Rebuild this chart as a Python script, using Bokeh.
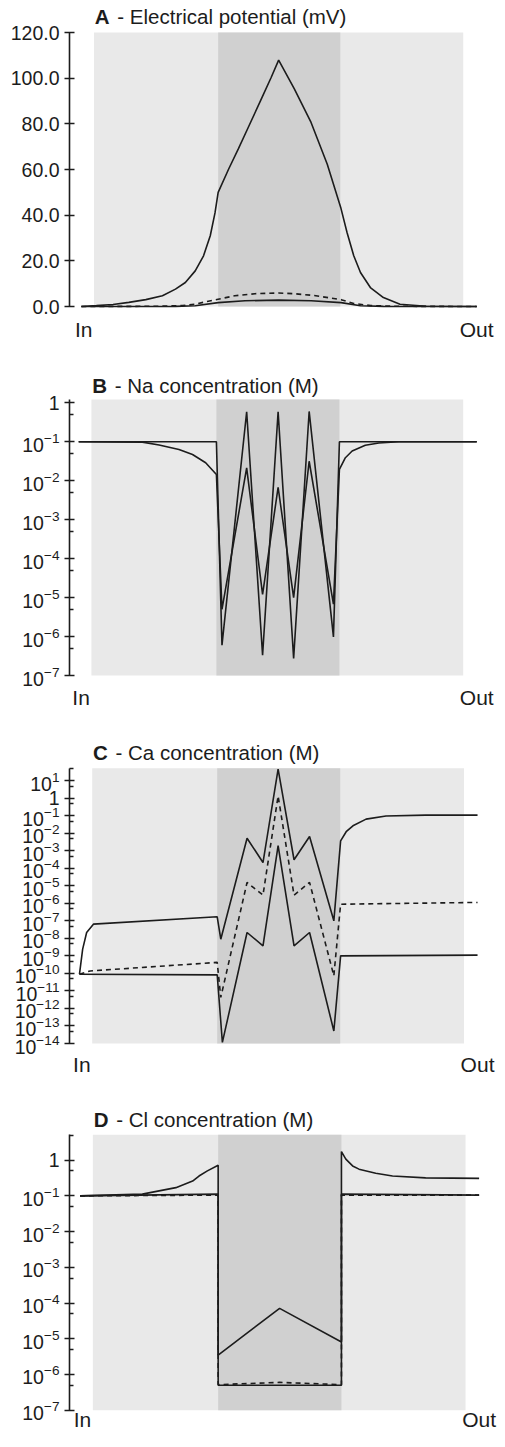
import math
from bokeh.plotting import figure
from bokeh.layouts import column
from bokeh.models import Range1d, FixedTicker, PrintfTickFormatter, BoxAnnotation
from bokeh.core.properties import value
from bokeh.embed import file_html
from bokeh.resources import INLINE

# ---------------- data (x: 0 = "In" side, 100 = "Out" side) ----------------
# bath (light band) and membrane (dark band) limits
BATH = [3.2, 96.6]
MEMBRANE = [34.6, 65.5]

# A - Electrical potential (mV)
a_x_big = [0, 3.8, 8.0, 12.0, 16.3, 20.5, 23.8, 26.3, 28.8, 30.9, 32.6, 33.8, 34.6, 37.2, 39.7, 42.2,
           45.5, 48.0, 49.9, 53.9, 58.1, 62.2, 65.6, 67.2, 68.9, 70.6, 73.1, 76.4, 80.6, 87.2, 100]
a_y_big = [0, 0.4, 0.9, 1.8, 3.0, 4.7, 7.6, 10.5, 15.6, 22.2, 31, 41, 50, 60, 69, 78.4,
           90.8, 100.3, 107.9, 95.2, 80.6, 62.3, 43.4, 32.4, 22.2, 14.9, 8.3, 3.9, 1.0, 0.1, 0]
a_x_dash = [0, 18.8, 25.6, 28.8, 31.8, 34.6, 38.8, 43.9, 49.9, 53.9, 58.9, 65.7, 68.9, 73.2, 79.0, 100]
a_y_dash = [0, 0.1, 0.4, 1.0, 2.2, 3.2, 4.7, 5.6, 5.9, 5.6, 4.8, 3.0, 1.3, 0.4, 0.1, 0]
a_x_low = [0, 23.8, 28.8, 34.6, 41.4, 49.9, 58.1, 65.7, 70.6, 76.4, 100]
a_y_low = [0, 0.05, 0.3, 1.7, 2.5, 2.8, 2.5, 1.7, 0.3, 0.05, 0]
a_ticks = [0, 20, 40, 60, 80, 100, 120]

# B - Na concentration (M)
b_x_outer = [0, 34.6, 36.0, 42.2, 46.2, 50.1, 54.0, 57.9, 64.0, 65.5, 100]
b_y_outer = [0.1, 0.1, 6.0e-7, 0.59, 3.3e-7, 0.59, 2.75e-7, 0.6, 9.8e-7, 0.1, 0.1]
b_x_inner = [0, 16.0, 20.2, 25.2, 28.6, 31.9, 34.6, 36.0, 42.2, 46.2, 50.1, 54.0, 57.9, 64.0,
             65.5, 67.0, 68.7, 72.0, 75.4, 80.4, 100]
b_y_inner = [0.1, 0.098, 0.083, 0.063, 0.047, 0.029, 0.0145, 5.0e-6, 0.0214, 1.2e-5, 6.8e-3, 1.0e-5,
             0.0316, 6.8e-6, 0.0195, 0.039, 0.058, 0.081, 0.093, 0.1, 0.1]
b_ticks = [1e-7, 1e-6, 1e-5, 1e-4, 1e-3, 1e-2, 1e-1, 1.0]
b_minor = [5e-7, 5e-6, 5e-5, 5e-4, 5e-3, 5e-2, 5e-1]

# C - Ca concentration (M)
c_x_up = [0, 0.8, 1.8, 3.5, 34.6, 35.5, 42.1, 46.1, 49.9, 53.9, 57.8, 63.9, 65.6, 67.0, 68.7, 72.0,
          77.0, 87.0, 100]
c_y_up = [9.1e-11, 2.45e-9, 2.19e-8, 6.6e-8, 1.74e-7, 9.1e-9, 5.37e-3, 2.19e-4, 47.9, 3.16e-4, 6.76e-3,
          1.02e-7, 3.8e-3, 1.26e-2, 2.75e-2, 6.6e-2, 0.1, 0.112, 0.112]
c_x_dash = [0, 2.7, 34.6, 35.5, 42.1, 46.1, 49.9, 53.9, 57.8, 63.9, 65.6, 100]
c_y_dash = [9.1e-11, 1.4e-10, 4.3e-10, 4.3e-12, 1.6e-5, 3.0e-6, 1.4, 3.0e-6, 1.6e-5, 7.4e-11, 9.1e-7, 1.15e-6]
c_x_low = [0, 34.6, 35.9, 42.1, 46.1, 49.9, 53.9, 57.8, 63.9, 65.6, 100]
c_y_low = [9.1e-11, 8.3e-11, 1.15e-14, 2.2e-8, 3.8e-9, 2.0e-3, 3.8e-9, 2.2e-8, 5.2e-14, 1.02e-9, 1.12e-9]
c_ticks = [1e-14, 1e-13, 1e-12, 1e-11, 1e-10, 1e-9, 1e-8, 1e-7, 1e-6, 1e-5, 1e-4, 1e-3, 1e-2, 1e-1, 1.0, 10.0]
c_minor = [5e-14, 5e-13, 5e-12, 5e-11, 5e-10, 5e-9, 5e-8, 5e-7, 5e-6, 5e-5, 5e-4, 5e-3, 5e-2, 5e-1, 5.0, 50.0]

# D - Cl concentration (M)
d_x_up = [0, 15.6, 24.0, 28.2, 29.8, 31.9, 34.6, 34.6, 50.0, 65.5, 65.5, 66.6, 68.3, 69.9, 74.1, 78.3, 86.6, 100]
d_y_up = [0.1, 0.112, 0.17, 0.26, 0.36, 0.5, 0.72, 3.5e-6, 7.1e-5, 8.1e-6, 1.74, 1.07, 0.69, 0.56, 0.43,
          0.36, 0.32, 0.31]
d_x_low = [0, 34.6, 34.6, 65.5, 65.5, 100]
d_y_low = [0.1, 0.112, 5.0e-7, 5.0e-7, 0.112, 0.105]
d_x_dash = [0, 34.6, 34.6, 50.0, 65.5, 65.5, 100]
d_y_dash = [0.1, 0.105, 5.2e-7, 6.0e-7, 5.2e-7, 0.105, 0.105]
d_ticks = [1e-7, 1e-6, 1e-5, 1e-4, 1e-3, 1e-2, 1e-1, 1.0]
d_minor = [5e-7, 5e-6, 5e-5, 5e-4, 5e-3, 5e-2, 5e-1, 5.0]

panel_letters = ["A", "B", "C", "D"]
panel_titles = ["- Electrical potential (mV)", "- Na concentration (M)",
                "- Ca concentration (M)", "- Cl concentration (M)"]
end_labels = ["In", "Out"]

# ---------------- layout ----------------
PX = 3.99          # px per x unit
W = 497
PAGE_RIGHT = 505
INK = "#1c1c1c"
FONT = "Liberation Sans"
LIGHT = "#e9e9e9"
DARK = "#d0d0d0"


def make_panel(idx, fig_top, h, frame_top, frame_bot, axis_x, zero_x, y0, y1, log, title_y, io_y):
    """frame_top/frame_bot: page y of the data region (y1 / y0)."""
    fh = frame_bot - frame_top

    def ydata(page_y):
        f = (frame_bot - page_y) / fh
        if log:
            return 10 ** (math.log10(y0) + f * (math.log10(y1) - math.log10(y0)))
        return y0 + f * (y1 - y0)

    x0 = (axis_x - zero_x) / PX
    x1 = x0 + (PAGE_RIGHT - axis_x) / PX
    p = figure(width=W, height=h, x_range=Range1d(x0, x1),
               y_range=Range1d(ydata(fig_top + h), ydata(fig_top)),
               y_axis_type="log" if log else "linear", x_axis_location=None, title=None,
               output_backend="svg", toolbar_location=None,
               min_border_left=axis_x - 8, min_border_right=0,
               min_border_top=0, min_border_bottom=0)
    p.xgrid.visible = False
    p.ygrid.visible = False
    p.outline_line_color = None
    p.background_fill_color = "white"
    p.border_fill_color = "white"

    p.add_layout(BoxAnnotation(left=BATH[0], right=BATH[1], bottom=y0, top=y1, fill_color=LIGHT,
                               fill_alpha=1, line_color=None, level="underlay"))
    p.add_layout(BoxAnnotation(left=MEMBRANE[0], right=MEMBRANE[1], bottom=y0, top=y1, fill_color=DARK,
                               fill_alpha=1, line_color=None, level="underlay"))

    ax = p.yaxis[0]
    ax.bounds = (y0, y1)
    ax.axis_line_color = INK
    ax.axis_line_width = 1.6
    ax.major_tick_line_color = INK
    ax.major_tick_line_width = 1.6
    ax.minor_tick_line_color = INK
    ax.minor_tick_line_width = 1.4
    ax.major_tick_in = 5
    ax.major_tick_out = 5
    ax.minor_tick_in = 4
    ax.minor_tick_out = 0
    ax.major_label_standoff = 5
    ax.major_label_text_font = FONT
    ax.major_label_text_font_size = "19.5px"
    ax.major_label_text_color = INK

    ty = ydata(title_y)
    p.text(x=[BATH[0] + 0.2], y=[ty], text=[panel_letters[idx]], text_font=value(FONT),
           text_font_size="20.5px", text_font_style=value("bold"), text_color=INK,
           text_baseline="middle", text_align="left")
    p.text(x=[BATH[0] + 0.2], y=[ty], x_offset=22.5, text=[panel_titles[idx]], text_font=value(FONT),
           text_font_size="20.5px", text_color=INK, text_baseline="middle", text_align="left")
    iy = ydata(io_y)
    p.text(x=[0.6, 100], y=[iy, iy], text=end_labels, text_font=value(FONT), text_font_size="21px",
           text_color=INK, text_baseline="middle", text_align="center")
    return p


# Panel A
pA = make_panel(0, 8, 348, 40, 314, 73, 85, 0, 120, False, 24, 336.5)
pA.yaxis[0].ticker = FixedTicker(ticks=a_ticks, minor_ticks=[])
pA.yaxis[0].formatter = PrintfTickFormatter(format="%.1f")
pA.line(a_x_big, a_y_big, line_color=INK, line_width=1.6)
pA.line(a_x_dash, a_y_dash, line_color=INK, line_width=1.6, line_dash="5 4")
pA.line(a_x_low, a_y_low, line_color=INK, line_width=1.6)

# Panel B
pB = make_panel(1, 356, 368, 407, 683, 76, 85.2, 1e-7, 10 ** 0.085, True, 392.5, 705)
pB.yaxis[0].ticker = FixedTicker(ticks=b_ticks, minor_ticks=b_minor)
pB.yaxis[0].major_label_overrides = {1: "1"}
pB.line(b_x_outer, b_y_outer, line_color=INK, line_width=1.6)
pB.line(b_x_inner, b_y_inner, line_color=INK, line_width=1.6)

# Panel C
pC = make_panel(2, 724, 368, 775.7, 1051, 76, 86, 1e-14, 10 ** 1.73, True, 760, 1071.5)
pC.yaxis[0].ticker = FixedTicker(ticks=c_ticks, minor_ticks=c_minor)
pC.yaxis[0].major_label_overrides = {1: "1"}
pC.line(c_x_up, c_y_up, line_color=INK, line_width=1.6)
pC.line(c_x_dash, c_y_dash, line_color=INK, line_width=1.6, line_dash="5 4")
pC.line(c_x_low, c_y_low, line_color=INK, line_width=1.6)

# Panel D
pD = make_panel(3, 1092, 347, 1142.3, 1417.7, 77, 87.6, 1e-7, 10 ** 0.71, True, 1127, 1427)
pD.yaxis[0].ticker = FixedTicker(ticks=d_ticks, minor_ticks=d_minor)
pD.yaxis[0].major_label_overrides = {1: "1"}
pD.line(d_x_up, d_y_up, line_color=INK, line_width=1.6)
pD.line(d_x_low, d_y_low, line_color=INK, line_width=1.6)
pD.line(d_x_dash, d_y_dash, line_color=INK, line_width=1.6, line_dash="5 4")

layout = column(pA, pB, pC, pD)
open("out.html", "w").write(file_html(layout, INLINE))
